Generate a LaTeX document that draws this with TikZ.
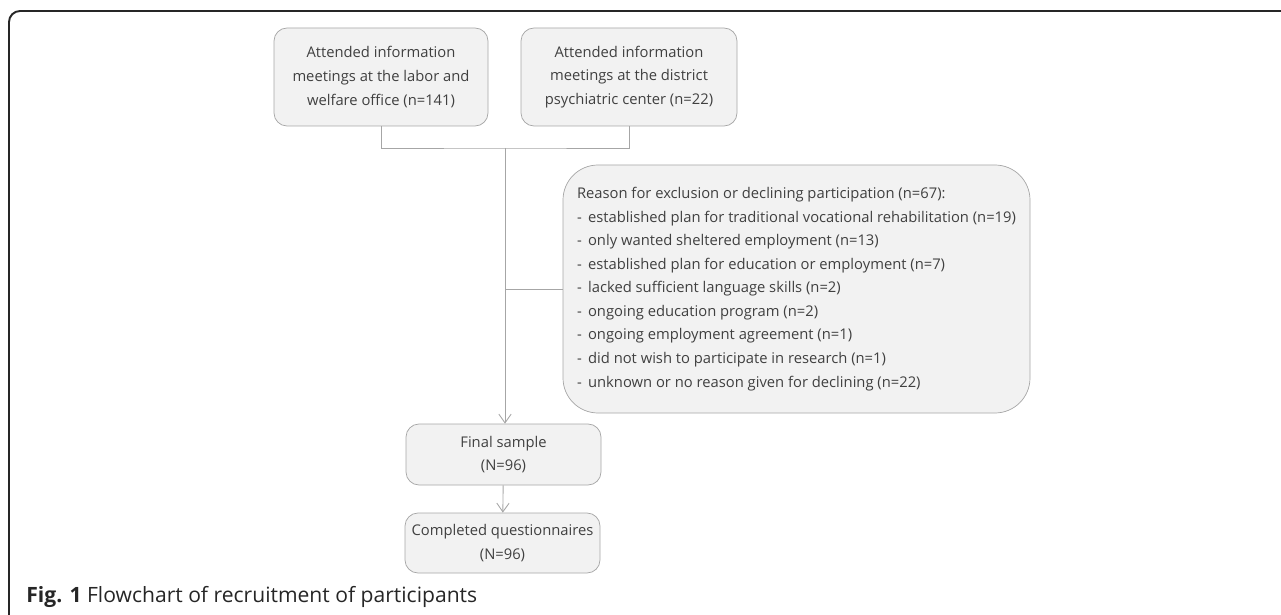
\documentclass[tikz,border=0pt]{standalone}
\usepackage{fontspec}
\setmainfont{Open Sans}
\usepackage{tikz}
\usetikzlibrary{calc, arrows.meta}
\usetikzlibrary{positioning}
\definecolor{boxfill}{HTML}{F2F2F2}
\definecolor{boxline}{HTML}{A6A6A6}
\definecolor{textgray}{HTML}{404040}
\tikzstyle{box} = [rectangle, draw=boxline, fill=boxfill, text=textgray, align=center, rounded corners=0.26cm, font=\fontsize{8.4}{13.4}\selectfont, inner sep=0pt]
\tikzstyle{link} = [draw=boxline, line width=0.5pt]
\tikzstyle{connector} = [draw=boxline, line width=0.5pt, -{Straight Barb[length=5pt, width=7pt]}]

\begin{document}
\begin{tikzpicture}
        \useasboundingbox (0, 0) rectangle (25.62, -12.3);

        % frame of the figure
        \draw[line width=1.1pt, black!85, rounded corners=0.22cm] (0.18, -12.5) -- (0.18, -0.22) -- (25.8, -0.22);

        \node[box, minimum width=4.28cm, minimum height=1.96cm] (labor) at (7.62, -1.54) {Attended information\\meetings at the labor and\\welfare office (n=141)};
        \node[box, minimum width=4.32cm, minimum height=1.96cm] (district) at (12.58, -1.54) {Attended information\\meetings at the district\\psychiatric center (n=22)};

        \node[box, minimum width=9.34cm, minimum height=4.96cm, rounded corners=0.7cm, align=left] (reason) at (15.93, -5.78) {Reason for exclusion or declining participation (n=67):\\
        -\, established plan for traditional vocational rehabilitation (n=19)\\
        -\, only wanted sheltered employment (n=13)\\
        -\, established plan for education or employment (n=7)\\
        -\, lacked sufficient language skills (n=2)\\
        -\, ongoing education program (n=2)\\
        -\, ongoing employment agreement (n=1)\\
        -\, did not wish to participate in research (n=1)\\
        -\, unknown or no reason given for declining (n=22)};

        \node[box, minimum width=3.9cm, minimum height=1.22cm] (final) at (10.07, -9.09) {Final sample\\(N=96)};
        \node[box, minimum width=3.9cm, minimum height=1.2cm] (completed) at (10.05, -10.86) {Completed questionnaires\\(N=96)};

        \coordinate (join) at (10.1, -2.96);

        \draw[link] (labor.south) |- (join) -| (district.south);
        \draw[connector] (join) -- (join |- final.north);
        \draw[link] (join |- reason.west) -- (reason.west);
        \draw[connector] (final) -- (completed);

        \node[anchor=west, font=\fontsize{12}{14}\selectfont, text=black!85, inner sep=0pt] (caption) at (0.52, -11.94) {\textbf{Fig. 1} Flowchart of recruitment of participants};

    \end{tikzpicture}
\end{document}
